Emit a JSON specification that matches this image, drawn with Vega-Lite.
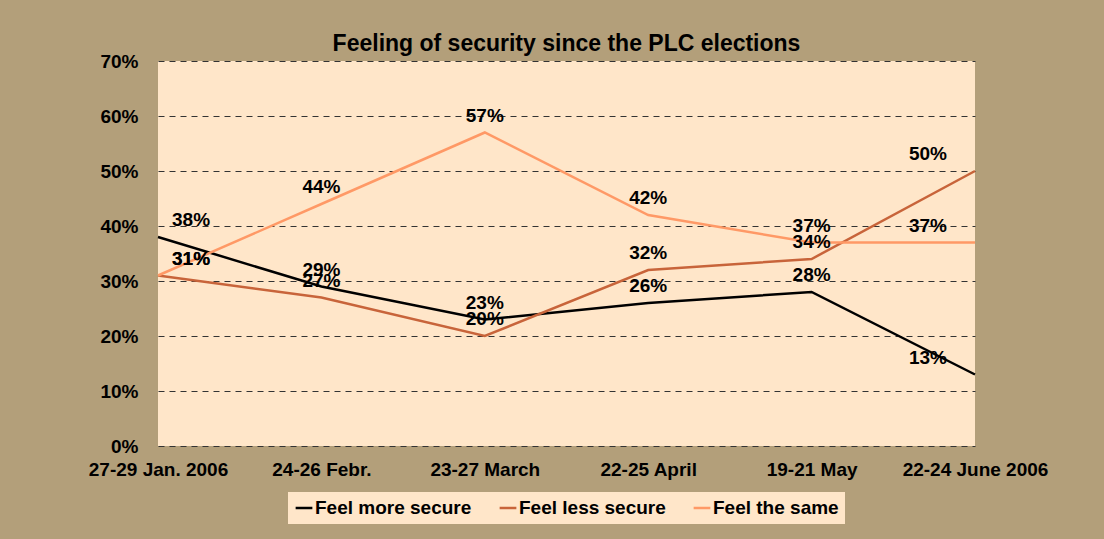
{
  "$schema": "https://vega.github.io/schema/vega-lite/v6.json",
  "width": 817,
  "height": 385,
  "autosize": {"type": "none"},
  "padding": {"left": 158, "top": 61, "right": 129, "bottom": 93},
  "background": "#B39F7A",
  "view": {"fill": "#FFE6C9", "stroke": null},
  "title": {
    "text": "Feeling of security since the PLC elections",
    "font": "Liberation Sans",
    "fontSize": 23,
    "fontWeight": "bold",
    "color": "#000000",
    "anchor": "middle",
    "offset": -4
  },
  "config": {
    "font": "Liberation Sans"
  },
  "data": {
    "values": [
      {"period": "27-29 Jan. 2006", "series": "Feel more secure", "value": 0.38},
      {"period": "24-26 Febr.", "series": "Feel more secure", "value": 0.29},
      {"period": "23-27 March", "series": "Feel more secure", "value": 0.23},
      {"period": "22-25 April", "series": "Feel more secure", "value": 0.26},
      {"period": "19-21 May", "series": "Feel more secure", "value": 0.28},
      {"period": "22-24 June 2006", "series": "Feel more secure", "value": 0.13},
      {"period": "27-29 Jan. 2006", "series": "Feel less secure", "value": 0.31},
      {"period": "24-26 Febr.", "series": "Feel less secure", "value": 0.27},
      {"period": "23-27 March", "series": "Feel less secure", "value": 0.20},
      {"period": "22-25 April", "series": "Feel less secure", "value": 0.32},
      {"period": "19-21 May", "series": "Feel less secure", "value": 0.34},
      {"period": "22-24 June 2006", "series": "Feel less secure", "value": 0.50},
      {"period": "27-29 Jan. 2006", "series": "Feel the same", "value": 0.31},
      {"period": "24-26 Febr.", "series": "Feel the same", "value": 0.44},
      {"period": "23-27 March", "series": "Feel the same", "value": 0.57},
      {"period": "22-25 April", "series": "Feel the same", "value": 0.42},
      {"period": "19-21 May", "series": "Feel the same", "value": 0.37},
      {"period": "22-24 June 2006", "series": "Feel the same", "value": 0.37}
    ]
  },
  "encoding": {
    "x": {
      "field": "period",
      "type": "ordinal",
      "sort": null,
      "scale": {"type": "point", "padding": 0},
      "axis": {
        "title": null,
        "labelAngle": 0,
        "labelFont": "Liberation Sans",
        "labelFontSize": 19,
        "labelFontWeight": "bold",
        "labelColor": "#000000",
        "labelPadding": 14,
        "domain": false,
        "ticks": false,
        "grid": false
      }
    },
    "y": {
      "field": "value",
      "type": "quantitative",
      "scale": {"domain": [0, 0.7], "nice": false},
      "axis": {
        "title": null,
        "values": [0, 0.1, 0.2, 0.3, 0.4, 0.5, 0.6, 0.7],
        "format": ".0%",
        "labelFont": "Liberation Sans",
        "labelFontSize": 19,
        "labelFontWeight": "bold",
        "labelColor": "#000000",
        "labelPadding": 20,
        "domain": false,
        "ticks": false,
        "grid": true,
        "gridColor": "#333333",
        "gridDash": [6, 5],
        "gridWidth": 1.2,
        "gridOpacity": 1
      }
    }
  },
  "layer": [
    {
      "mark": {"type": "line", "strokeWidth": 2.5},
      "encoding": {
        "color": {
          "field": "series",
          "type": "nominal",
          "scale": {
            "domain": ["Feel more secure", "Feel less secure", "Feel the same"],
            "range": ["#000000", "#C8643A", "#FF9966"]
          },
          "legend": {
            "title": null,
            "orient": "none",
            "direction": "horizontal",
            "legendX": 130,
            "legendY": 431,
            "fillColor": "#FFE6C9",
            "padding": 6,
            "symbolType": "stroke",
            "symbolSize": 280,
            "symbolStrokeWidth": 2.5,
            "labelFont": "Liberation Sans",
            "labelFontSize": 19,
            "labelFontWeight": "bold",
            "labelColor": "#000000",
            "labelOffset": 1,
            "columnPadding": 22,
            "labelLimit": 300
          }
        }
      }
    },
    {
      "transform": [{"filter": "datum.period !== '27-29 Jan. 2006' && datum.period !== '22-24 June 2006'"}],
      "mark": {"type": "text", "dy": -17, "fontSize": 19, "fontWeight": "bold", "font": "Liberation Sans", "color": "#000000"},
      "encoding": {"text": {"field": "value", "type": "quantitative", "format": ".0%"}, "detail": {"field": "series"}}
    },
    {
      "transform": [{"filter": "datum.period === '27-29 Jan. 2006'"}],
      "mark": {"type": "text", "dy": -17, "dx": 14, "align": "left", "fontSize": 19, "fontWeight": "bold", "font": "Liberation Sans", "color": "#000000"},
      "encoding": {"text": {"field": "value", "type": "quantitative", "format": ".0%"}}
    },
    {
      "transform": [{"filter": "datum.period === '22-24 June 2006'"}],
      "mark": {"type": "text", "dy": -17, "dx": -28, "align": "right", "fontSize": 19, "fontWeight": "bold", "font": "Liberation Sans", "color": "#000000"},
      "encoding": {"text": {"field": "value", "type": "quantitative", "format": ".0%"}}
    }
  ]
}
